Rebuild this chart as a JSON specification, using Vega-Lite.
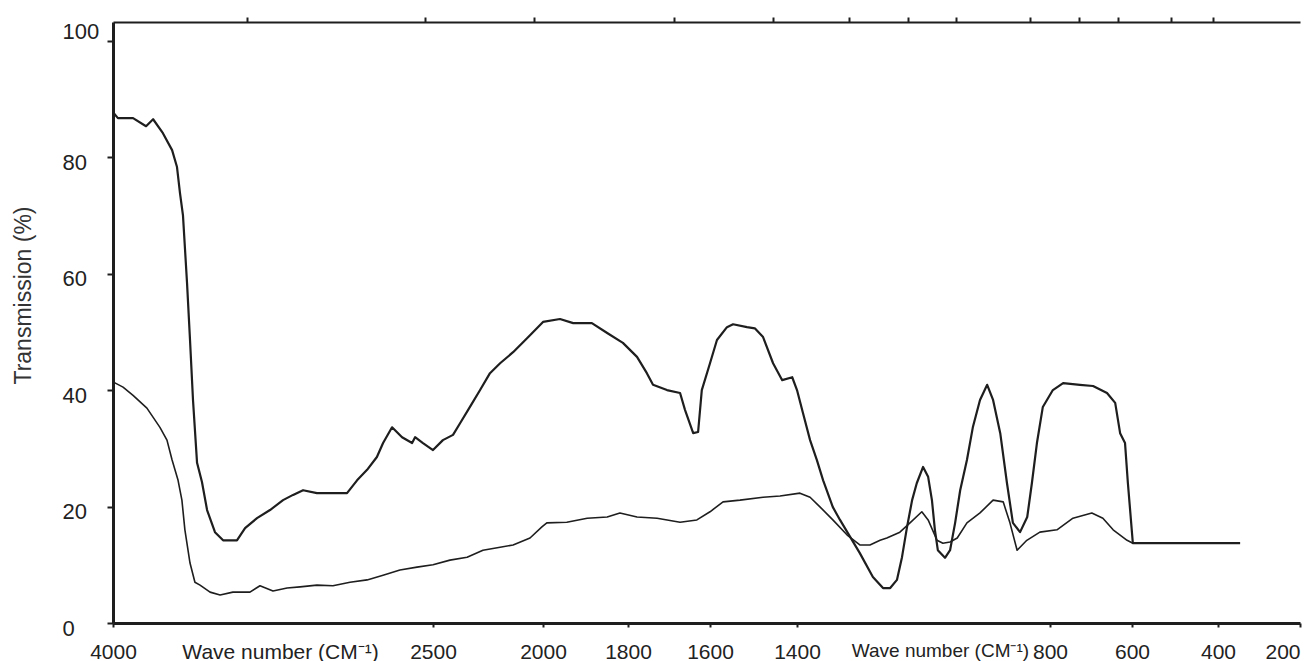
{
  "$schema": "https://vega.github.io/schema/vega-lite/v6.json",
  "autosize": {"type": "none"},
  "width": 1187,
  "height": 601,
  "padding": {"left": 113, "top": 22, "right": 13, "bottom": 38},
  "background": "white",
  "config": {
    "view": {"stroke": null},
    "axis": {"grid": false, "labelFont": "Liberation Sans", "titleFont": "Liberation Sans", "domainColor": "#1e1e1e", "tickColor": "#1e1e1e", "labelColor": "#222222", "titleColor": "#333333", "labelLimit": 0}
  },
  "data": {"values": [
    {"s":"A","wn":4000,"T":87.7},{"s":"A","wn":3977,"T":86.7},{"s":"A","wn":3906,"T":86.7},{"s":"A","wn":3845,"T":85.3},{"s":"A","wn":3812,"T":86.5},{"s":"A","wn":3766,"T":84.1},{"s":"A","wn":3723,"T":81.2},{"s":"A","wn":3700,"T":78.3},{"s":"A","wn":3686,"T":73.8},{"s":"A","wn":3672,"T":70.0},{"s":"A","wn":3653,"T":58.4},{"s":"A","wn":3639,"T":48.6},{"s":"A","wn":3625,"T":38.3},{"s":"A","wn":3606,"T":27.5},{"s":"A","wn":3583,"T":24.2},{"s":"A","wn":3559,"T":19.4},{"s":"A","wn":3522,"T":15.6},{"s":"A","wn":3484,"T":14.2},{"s":"A","wn":3419,"T":14.2},{"s":"A","wn":3381,"T":16.3},{"s":"A","wn":3325,"T":18.0},{"s":"A","wn":3264,"T":19.4},{"s":"A","wn":3203,"T":21.1},{"s":"A","wn":3156,"T":22.0},{"s":"A","wn":3109,"T":22.8},{"s":"A","wn":3044,"T":22.3},{"s":"A","wn":2969,"T":22.3},{"s":"A","wn":2903,"T":22.3},{"s":"A","wn":2856,"T":24.5},{"s":"A","wn":2809,"T":26.3},{"s":"A","wn":2763,"T":28.5},{"s":"A","wn":2734,"T":30.9},{"s":"A","wn":2692,"T":33.6},{"s":"A","wn":2645,"T":31.9},{"s":"A","wn":2598,"T":30.9},{"s":"A","wn":2584,"T":31.9},{"s":"A","wn":2547,"T":30.9},{"s":"A","wn":2500,"T":29.7},{"s":"A","wn":2455,"T":31.4},{"s":"A","wn":2409,"T":32.3},{"s":"A","wn":2377,"T":34.3},{"s":"A","wn":2332,"T":37.1},{"s":"A","wn":2286,"T":40.0},{"s":"A","wn":2241,"T":42.9},{"s":"A","wn":2195,"T":44.6},{"s":"A","wn":2136,"T":46.5},{"s":"A","wn":2059,"T":49.4},{"s":"A","wn":2000,"T":51.7},{"s":"A","wn":1960,"T":52.2},{"s":"A","wn":1929,"T":51.5},{"s":"A","wn":1885,"T":51.5},{"s":"A","wn":1849,"T":49.8},{"s":"A","wn":1812,"T":48.1},{"s":"A","wn":1778,"T":45.7},{"s":"A","wn":1754,"T":42.9},{"s":"A","wn":1739,"T":40.9},{"s":"A","wn":1705,"T":40.0},{"s":"A","wn":1673,"T":39.5},{"s":"A","wn":1661,"T":36.6},{"s":"A","wn":1641,"T":32.6},{"s":"A","wn":1629,"T":32.8},{"s":"A","wn":1620,"T":40.0},{"s":"A","wn":1600,"T":44.6},{"s":"A","wn":1584,"T":48.6},{"s":"A","wn":1561,"T":50.8},{"s":"A","wn":1547,"T":51.3},{"s":"A","wn":1515,"T":50.8},{"s":"A","wn":1497,"T":50.6},{"s":"A","wn":1478,"T":49.1},{"s":"A","wn":1455,"T":44.6},{"s":"A","wn":1434,"T":41.7},{"s":"A","wn":1411,"T":42.2},{"s":"A","wn":1400,"T":40.0},{"s":"A","wn":1386,"T":36.1},{"s":"A","wn":1369,"T":31.4},{"s":"A","wn":1353,"T":28.0},{"s":"A","wn":1338,"T":24.5},{"s":"A","wn":1315,"T":19.9},{"s":"A","wn":1298,"T":17.7},{"s":"A","wn":1274,"T":14.8},{"s":"A","wn":1251,"T":12.0},{"s":"A","wn":1220,"T":7.9},{"s":"A","wn":1196,"T":6.0},{"s":"A","wn":1179,"T":6.0},{"s":"A","wn":1163,"T":7.4},{"s":"A","wn":1151,"T":11.3},{"s":"A","wn":1139,"T":16.5},{"s":"A","wn":1127,"T":21.1},{"s":"A","wn":1116,"T":24.0},{"s":"A","wn":1101,"T":26.8},{"s":"A","wn":1089,"T":25.1},{"s":"A","wn":1080,"T":21.1},{"s":"A","wn":1073,"T":16.0},{"s":"A","wn":1066,"T":12.5},{"s":"A","wn":1049,"T":11.2},{"s":"A","wn":1037,"T":12.5},{"s":"A","wn":1025,"T":17.2},{"s":"A","wn":1013,"T":22.8},{"s":"A","wn":997,"T":28.0},{"s":"A","wn":983,"T":33.6},{"s":"A","wn":966,"T":38.3},{"s":"A","wn":949,"T":40.9},{"s":"A","wn":935,"T":38.3},{"s":"A","wn":918,"T":32.6},{"s":"A","wn":902,"T":24.0},{"s":"A","wn":888,"T":17.2},{"s":"A","wn":871,"T":15.6},{"s":"A","wn":854,"T":18.2},{"s":"A","wn":843,"T":24.0},{"s":"A","wn":831,"T":30.9},{"s":"A","wn":817,"T":37.1},{"s":"A","wn":793,"T":40.0},{"s":"A","wn":768,"T":41.2},{"s":"A","wn":727,"T":40.9},{"s":"A","wn":695,"T":40.7},{"s":"A","wn":661,"T":39.5},{"s":"A","wn":641,"T":37.8},{"s":"A","wn":629,"T":32.6},{"s":"A","wn":617,"T":30.9},{"s":"A","wn":610,"T":24.0},{"s":"A","wn":598,"T":13.7},{"s":"A","wn":500,"T":13.7},{"s":"A","wn":400,"T":13.7},{"s":"A","wn":346,"T":13.7},
    {"s":"B","wn":4000,"T":41.4},{"s":"B","wn":3953,"T":40.5},{"s":"B","wn":3906,"T":39.1},{"s":"B","wn":3841,"T":36.9},{"s":"B","wn":3780,"T":33.6},{"s":"B","wn":3747,"T":31.4},{"s":"B","wn":3723,"T":28.0},{"s":"B","wn":3695,"T":24.5},{"s":"B","wn":3677,"T":21.1},{"s":"B","wn":3663,"T":16.0},{"s":"B","wn":3639,"T":10.3},{"s":"B","wn":3616,"T":7.0},{"s":"B","wn":3592,"T":6.5},{"s":"B","wn":3545,"T":5.3},{"s":"B","wn":3498,"T":4.8},{"s":"B","wn":3438,"T":5.3},{"s":"B","wn":3358,"T":5.3},{"s":"B","wn":3311,"T":6.4},{"s":"B","wn":3250,"T":5.5},{"s":"B","wn":3184,"T":6.0},{"s":"B","wn":3123,"T":6.2},{"s":"B","wn":3044,"T":6.5},{"s":"B","wn":2969,"T":6.4},{"s":"B","wn":2889,"T":7.0},{"s":"B","wn":2809,"T":7.4},{"s":"B","wn":2734,"T":8.2},{"s":"B","wn":2655,"T":9.1},{"s":"B","wn":2575,"T":9.6},{"s":"B","wn":2500,"T":10.0},{"s":"B","wn":2423,"T":10.8},{"s":"B","wn":2345,"T":11.3},{"s":"B","wn":2273,"T":12.5},{"s":"B","wn":2195,"T":13.0},{"s":"B","wn":2136,"T":13.4},{"s":"B","wn":2059,"T":14.6},{"s":"B","wn":2005,"T":16.5},{"s":"B","wn":1991,"T":17.2},{"s":"B","wn":1944,"T":17.3},{"s":"B","wn":1896,"T":18.0},{"s":"B","wn":1849,"T":18.2},{"s":"B","wn":1819,"T":18.9},{"s":"B","wn":1778,"T":18.2},{"s":"B","wn":1729,"T":18.0},{"s":"B","wn":1673,"T":17.3},{"s":"B","wn":1632,"T":17.7},{"s":"B","wn":1600,"T":19.1},{"s":"B","wn":1570,"T":20.8},{"s":"B","wn":1531,"T":21.1},{"s":"B","wn":1478,"T":21.6},{"s":"B","wn":1439,"T":21.8},{"s":"B","wn":1393,"T":22.3},{"s":"B","wn":1369,"T":21.6},{"s":"B","wn":1345,"T":19.9},{"s":"B","wn":1315,"T":17.7},{"s":"B","wn":1281,"T":15.1},{"s":"B","wn":1251,"T":13.4},{"s":"B","wn":1227,"T":13.4},{"s":"B","wn":1203,"T":14.2},{"s":"B","wn":1187,"T":14.6},{"s":"B","wn":1156,"T":15.6},{"s":"B","wn":1132,"T":17.2},{"s":"B","wn":1104,"T":19.1},{"s":"B","wn":1089,"T":17.7},{"s":"B","wn":1068,"T":14.2},{"s":"B","wn":1054,"T":13.7},{"s":"B","wn":1037,"T":13.9},{"s":"B","wn":1020,"T":14.6},{"s":"B","wn":997,"T":17.2},{"s":"B","wn":966,"T":18.9},{"s":"B","wn":935,"T":21.1},{"s":"B","wn":911,"T":20.8},{"s":"B","wn":895,"T":17.2},{"s":"B","wn":878,"T":12.5},{"s":"B","wn":855,"T":14.2},{"s":"B","wn":824,"T":15.6},{"s":"B","wn":783,"T":16.0},{"s":"B","wn":744,"T":18.0},{"s":"B","wn":698,"T":18.9},{"s":"B","wn":671,"T":18.0},{"s":"B","wn":646,"T":16.0},{"s":"B","wn":612,"T":14.2},{"s":"B","wn":598,"T":13.7}
  ]},
  "encoding": {
    "y": {
      "field": "T", "type": "quantitative",
      "scale": {"domain": [0, 103.2], "nice": false, "zero": false},
      "axis": {
        "values": [0, 20, 40, 60, 80, 100],
        "title": "Transmission (%)",
        "titleFontSize": 23, "titleFontWeight": "normal",
        "titleX": -90, "titleY": 273, "titleAngle": 270, "titleAlign": "center", "titleBaseline": "middle",
        "labelFontSize": 22, "labelAlign": "left", "labelPadding": 45, "labelBaseline": "middle",
        "labelOffset": {"condition": {"test": "datum.value == 100", "value": -9}, "value": 5},
        "tickSize": 6, "tickWidth": 2, "domainWidth": 3,
        "labelOverlap": false, "labelBound": false, "labelFlush": false
      }
    }
  },
  "layer": [
    {
      "transform": [{"filter": "datum.s == 'A'"}],
      "mark": {"type": "line", "stroke": "#1e1e1e", "strokeWidth": 2.2, "strokeJoin": "round"},
      "encoding": {
        "x": {
          "field": "wn", "type": "quantitative",
          "scale": {"domain": [4000, 2500, 2000, 1800, 1600, 1400, 800, 600, 400, 200], "range": [0, 320, 430, 515, 597, 684, 937, 1019, 1105, 1187], "nice": false, "zero": false},
          "axis": {
            "orient": "bottom",
            "values": [4000, 3217, 2500, 2000, 1800, 1600, 1400, 1061, 800, 600, 400, 200],
            "format": "d",
            "labelExpr": "(datum.value == 3217 || datum.value == 1061) ? 'Wave number (CM⁻¹)' : datum.label",
            "title": null,
            "labelFontSize": {"condition": {"test": "datum.value == 1061", "value": 19}, "value": 21},
            "labelBaseline": "top", "labelPadding": 14, "labelLimit": 0,
            "labelAlign": {"condition": {"test": "datum.value == 200", "value": "right"}, "value": "center"},
            "tickSize": 4, "tickWidth": 2, "domainWidth": 3,
            "tickOpacity": {"condition": {"test": "datum.value == 3217 || datum.value == 1061", "value": 0}, "value": 1},
            "labelOverlap": false, "labelBound": false, "labelFlush": false
          }
        }
      }
    },
    {
      "transform": [{"filter": "datum.s == 'B'"}],
      "mark": {"type": "line", "stroke": "#1e1e1e", "strokeWidth": 1.6, "strokeJoin": "round"},
      "encoding": {
        "x": {
          "field": "wn", "type": "quantitative",
          "scale": {"domain": [4000, 2500, 2000, 1800, 1600, 1400, 800, 600, 400, 200], "range": [0, 320, 430, 515, 597, 684, 937, 1019, 1105, 1187], "nice": false, "zero": false},
          "axis": {
            "orient": "top",
            "values": [3372, 2537, 2041, 1688, 1455, 1277, 1137, 1023, 847, 729, 634, 509, 412],
            "labels": false, "title": null,
            "tickSize": 5, "tickWidth": 2, "domainWidth": 2
          }
        }
      }
    }
  ]
}
